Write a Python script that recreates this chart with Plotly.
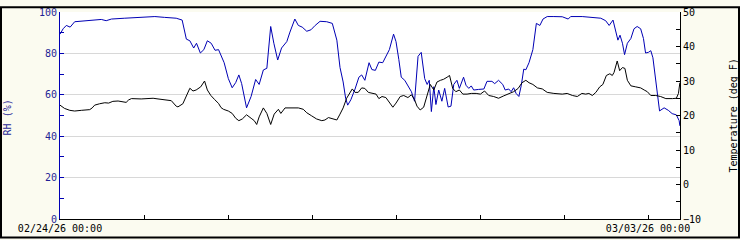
import pandas as pd
import plotly.graph_objects as go

start = pd.Timestamp("2026-02-24 00:00")

rh_hours = [0, 0.9, 1.8, 2.9, 4.2, 6.1, 8.9, 11.8, 13.2, 14.7, 18.5, 23.2, 27.1, 29.9, 33.2,
            34.9, 35.6, 36.1, 37.1, 38.2, 39.0, 40.1, 41.1, 42.1, 43.2, 44.3, 45.3,
            46.9, 48.1, 49.2, 50.2, 51.1, 51.9, 53.3, 54.6, 55.9, 56.9, 58.1, 59.1,
            60.2, 61.1, 62.2, 63.3, 64.8, 65.7, 67.1, 68.1, 69.2, 70.5, 71.7, 72.9,
            74.3, 76.2, 77.8, 79.1, 80.0, 80.9, 81.6, 82.2, 83.1, 84.3, 85.4, 86.2,
            87.1, 88.3, 89.1, 90.1, 91.1, 92.2, 93.1, 94.1, 95.3, 96.0, 96.8, 97.5,
            98.5, 99.4, 100.4, 101.3, 102.3, 103.2, 104.2, 104.9, 105.5, 106.1, 106.8,
            107.4, 108.2, 109.1, 109.9, 110.9, 111.7, 112.5, 113.4, 114.1, 114.9,
            115.3, 116.0, 116.8, 117.5, 118.2, 119.6, 121.1, 122.0, 123.4, 124.2,
            125.3, 126.5, 127.2, 128.2, 128.9, 129.6, 130.3, 131.1, 131.8, 132.5,
            133.1, 134.0, 134.7, 135.1, 136.1, 137.1, 138.0, 139.2, 141.1, 143.5,
            145.2, 145.9, 149.2, 151.6, 154.5, 155.9, 156.9, 158.0, 158.8, 159.4,
            160.0, 160.7, 161.3, 162.1, 163.1, 164.0, 164.9, 165.9, 166.7, 167.3,
            168.1, 168.8, 169.4, 170.2, 171.3, 172.6, 173.8, 174.9, 176.1, 176.9, 177.1]
rh_values = [89.3, 91.9, 93.5, 92.7, 95.3, 95.5, 95.8, 96.4, 95.8, 96.6, 97.0, 97.4, 97.8, 97.4, 97.0,
             96.1, 91.1, 86.9, 86.1, 82.6, 84.9, 80.2, 81.8, 86.1, 84.9, 81.5, 81.8,
             75.5, 67.8, 63.4, 65.9, 69.6, 65.4, 53.7, 59.2, 67.4, 65.0, 72.0, 72.8,
             93.0, 84.9, 76.8, 82.6, 85.7, 90.3, 96.6, 93.5, 92.7, 90.7, 91.4, 93.5,
             95.5, 95.3, 94.5, 86.4, 73.2, 66.2, 58.4, 55.0, 57.6, 62.8, 68.5, 69.6,
             67.0, 75.5, 72.2, 71.8, 75.8, 75.5, 78.6, 81.8, 89.3, 85.7, 77.1, 68.5,
             67.0, 64.6, 61.5, 56.9, 78.6, 80.5, 67.8, 65.0, 67.0, 51.9, 63.9,
             55.3, 62.3, 56.9, 63.1, 54.1, 54.5, 65.0, 67.0, 63.1, 66.5,
             68.5, 64.6, 63.1, 64.3, 62.3, 62.6, 62.8, 66.5, 66.5, 65.4,
             67.0, 65.0, 62.3, 62.8, 61.5, 63.4, 60.7, 59.2, 64.6, 72.4,
             72.1, 75.5, 79.4, 81.8, 94.5, 93.5, 96.6, 97.8, 97.8, 97.7,
             96.6, 97.8, 97.8, 97.4, 97.0, 95.8, 93.5, 96.1, 89.6, 86.4,
             88.8, 84.9, 79.4, 84.9, 87.2, 91.9, 93.0, 91.9, 87.2, 80.2,
             80.5, 81.3, 77.9, 66.2, 52.2, 53.7, 52.5, 50.9, 50.3, 47.5, 45.0]

temp_hours = [0, 1.3, 2.8, 4.2, 6.1, 8.5, 9.2, 9.9, 11.3, 12.8, 13.9, 15.1, 16.6, 18.0, 18.9,
              19.6, 20.4, 23.2, 26.6, 28.0, 29.4, 31.8, 33.2, 33.7, 35.1, 36.1, 37.1, 38.0,
              38.9, 40.2, 41.3, 42.1, 43.1, 44.2, 45.3, 46.0, 46.7, 48.1, 49.2, 50.2, 51.1,
              52.1, 53.3, 54.6, 55.5, 56.2, 56.9, 58.1, 59.1, 60.2, 61.2, 62.4, 63.1, 64.3,
              66.2, 68.1, 69.5, 70.5, 71.9, 73.3, 74.8, 75.7, 76.7, 78.1, 79.1, 80.0, 80.9,
              81.9, 82.9, 83.5, 84.3, 85.2, 86.2, 87.1, 88.1, 89.1, 90.3, 91.1, 92.0, 93.1,
              94.1, 95.1, 96.0, 97.2, 98.2, 99.4, 100.4, 101.3, 102.0, 102.9, 103.9, 104.9,
              105.8, 106.8, 107.7, 108.7, 109.6, 110.6, 111.3, 112.2, 113.1, 114.1, 115.1,
              116.3, 117.5, 118.9, 120.1, 121.3, 122.5, 123.9, 125.3, 126.8, 128.2, 129.6,
              130.9, 132.0, 133.1, 134.0, 135.1, 136.4, 137.8, 139.2, 141.1, 143.5, 144.9,
              146.4, 147.8, 149.1, 150.2, 151.1, 152.1, 153.1, 154.2, 155.1, 156.1, 157.1,
              157.8, 158.3, 159.2, 159.9, 160.7, 161.4, 162.1, 163.1, 164.5, 165.9, 166.9,
              167.8, 168.8, 170.2, 171.6, 173.1, 175.0, 176.1, 176.7, 177.1]
temp_values = [23.0, 22.05, 21.5, 21.3, 21.5, 21.7, 22.2, 23.0, 23.4, 23.7, 23.6, 24.1, 24.2, 23.9, 23.8,
               24.5, 24.9, 24.8, 25.0, 24.8, 24.6, 24.3, 22.7, 22.5, 23.4, 25.5, 27.9, 27.1,
               27.4, 28.3, 30.0, 27.4, 25.8, 24.6, 23.5, 22.3, 21.8, 21.3, 20.6, 19.2, 18.5,
               19.0, 20.2, 19.2, 18.5, 17.4, 19.6, 22.2, 20.6, 17.4, 20.4, 21.8, 20.6, 22.2,
               22.2, 22.2, 21.8, 20.8, 19.9, 19.0, 18.5, 18.7, 19.4, 19.0, 18.7, 20.4, 22.2,
               25.0, 26.9, 27.7, 26.7, 26.7, 28.0, 27.85, 26.7, 26.4, 26.2, 24.9, 25.5, 25.2,
               23.9, 22.4, 23.6, 25.5, 25.8, 25.2, 26.0, 24.6, 22.7, 21.6, 22.4, 26.0,
               29.0, 27.4, 29.7, 30.2, 30.5, 31.1, 31.6, 27.85, 26.9, 27.4, 26.2,
               26.2, 26.4, 26.4, 26.2, 27.1, 25.8, 25.5, 25.0, 25.7, 26.4, 26.9,
               27.85, 29.5, 30.2, 29.5, 29.0, 28.0, 27.7, 26.7, 26.4, 26.2, 26.4,
               25.8, 25.5, 26.4, 26.2, 26.4, 25.8, 26.7, 28.3, 29.0, 31.6, 32.1,
               31.6, 32.5, 35.8, 33.0, 33.9, 33.65, 30.2, 28.6, 28.3, 28.0, 27.4,
               26.9, 25.8, 25.8, 25.5, 24.9, 24.9, 25.0, 26.4, 29.5]

x_tick_days = ["2026-02-24", "2026-02-25", "2026-02-26", "2026-02-27",
               "2026-02-28", "2026-03-01", "2026-03-02", "2026-03-03"]
x_tick_text = ["02/24/26 00:00", "", "", "", "", "", "", "03/03/26 00:00"]
range_end_hours = 177.14

rh_x = start + pd.to_timedelta(rh_hours, unit="h")
temp_x = start + pd.to_timedelta(temp_hours, unit="h")

BLUE = "#0000B4"
NAVY = "#1F1F96"
BG = "#FBFBF0"
FONT = "DejaVu Sans Mono"

fig = go.Figure()
fig.add_trace(go.Scatter(x=rh_x, y=rh_values, mode="lines",
                         line=dict(color=BLUE, width=1), yaxis="y", showlegend=False))
fig.add_trace(go.Scatter(x=temp_x, y=temp_values, mode="lines",
                         line=dict(color="#000000", width=1), yaxis="y2", showlegend=False))

L, R, T, B = 60, 60, 6, 20
W, H = 740, 240
pw, ph = W - L - R, H - T - B

fig.update_layout(
    width=W, height=H,
    margin=dict(l=L, r=R, t=T, b=B, pad=0),
    paper_bgcolor=BG, plot_bgcolor="#FFFFFF",
    font=dict(family=FONT, size=10, color="#000000"),
    xaxis=dict(
        type="date",
        range=[start, start + pd.Timedelta(hours=range_end_hours)],
        tickvals=pd.to_datetime(x_tick_days), ticktext=x_tick_text,
        ticks="inside", ticklen=4, tickcolor="#000000",
        showline=True, linecolor="#000000", linewidth=1,
        showgrid=False, zeroline=False, tickangle=0,
        tickfont=dict(family=FONT, size=10, color="#000000"),
    ),
    yaxis=dict(
        range=[0, 100], tickvals=[0, 20, 40, 60, 80, 100],
        ticks="inside", ticklen=4, tickcolor=BLUE,
        minor=dict(tickvals=[10, 30, 50, 70, 90], ticks="inside", ticklen=4, tickcolor=BLUE),
        showline=True, linecolor=BLUE, linewidth=1,
        showgrid=True, gridcolor="#D8D8D8", gridwidth=1, zeroline=False,
        tickfont=dict(family=FONT, size=10, color=NAVY),
    ),
    yaxis2=dict(
        range=[-10, 50], tickvals=[-10, 0, 10, 20, 30, 40, 50],
        overlaying="y", side="right",
        ticks="inside", ticklen=4, tickcolor="#000000",
        minor=dict(tickvals=[-5, 5, 15, 25, 35, 45], ticks="inside", ticklen=4, tickcolor="#000000"),
        showline=True, linecolor="#000000", linewidth=1,
        showgrid=False, zeroline=False,
        tickfont=dict(family=FONT, size=10, color="#000000"),
    ),
    annotations=[
        dict(text="RH (%)", xref="paper", yref="paper",
             x=(7 - L) / pw, y=(H - B - 115) / ph, textangle=-90, showarrow=False,
             font=dict(family=FONT, size=10, color=NAVY), xanchor="center", yanchor="middle"),
        dict(text="Temperature (deg_F)", xref="paper", yref="paper",
             x=(733 - L) / pw, y=(H - B - 113) / ph, textangle=-90, showarrow=False,
             font=dict(family=FONT, size=10, color="#000000"), xanchor="center", yanchor="middle"),
    ],
    shapes=[
        dict(type="rect", xref="paper", yref="paper",
             x0=(1 - L) / pw, x1=(W - 1 - L) / pw,
             y0=(H - B - (H - 1)) / ph, y1=(H - B - 1) / ph,
             line=dict(color="#000000", width=2), fillcolor="rgba(0,0,0,0)", layer="above"),
    ],
)

fig.write_html("out.html")
